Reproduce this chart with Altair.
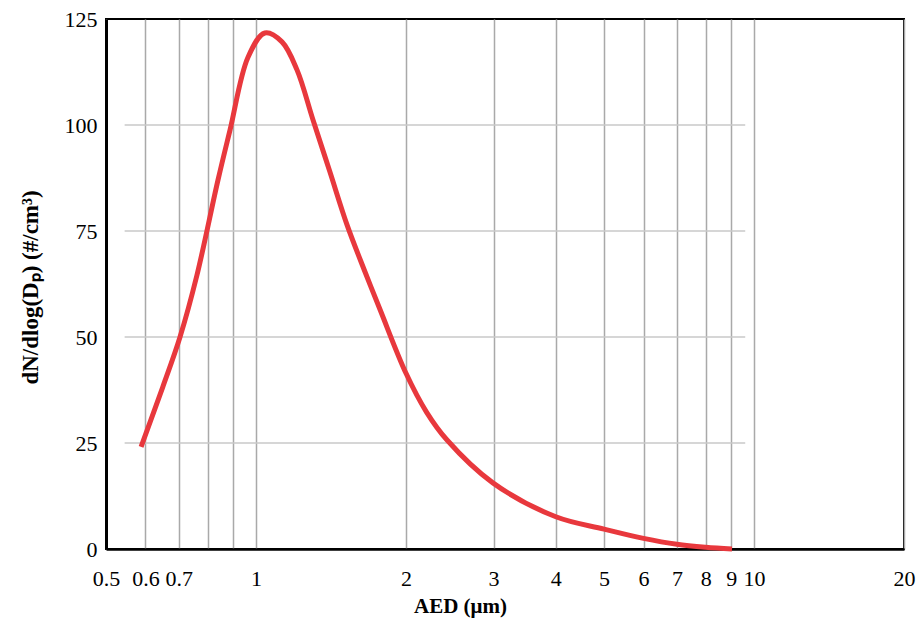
import altair as alt
import pandas as pd

# Particle size distribution
aed = [0.588, 0.650, 0.704, 0.761, 0.839, 0.887, 0.964, 1.042,
       1.128, 1.209, 1.302, 1.408, 1.523, 1.65, 1.777, 2.0, 2.2, 2.419, 2.99,
       4.0, 5.0, 6.0, 7.0, 8.0, 9.03]
dn = [24.1, 38.2, 50.0, 64.5, 87.0, 98.8, 116.0, 121.7,
      119.6, 113.0, 101.2, 88.9, 76.5, 65.8, 56.3, 41.5, 32.3, 25.7, 15.6,
      7.6, 4.7, 2.5, 1.1, 0.4, 0.0]

x_ticks = [0.5, 0.6, 0.7, 0.8, 0.9, 1, 2, 3, 4, 5, 6, 7, 8, 9, 10, 20]
y_ticks = [0, 25, 50, 75, 100, 125]
grid_y = [25, 50, 75, 100]
grid_x_start = [0.545] * 4
grid_x_end = [9.6] * 4

df = pd.DataFrame({"aed": aed, "dn": dn})
grid_df = pd.DataFrame({"x1": grid_x_start, "x2": grid_x_end, "y": grid_y})

FONT = "Liberation Serif"

x_scale = alt.Scale(type="log", domain=[0.5, 20], nice=False)
y_scale = alt.Scale(domain=[0, 125], nice=False)

x_axis = alt.Axis(
    values=x_ticks,
    labelExpr="(datum.value > 0.75 && datum.value < 0.95) ? '' : format(datum.value, '~g')",
    grid=True, gridColor="#a9a9a9", gridWidth=1.5,
    domainColor="black", domainWidth=2.5,
    tickSize=0, labelPadding=19, labelFlush=False, labelOverlap=False,
    labelFont=FONT, labelFontSize=22, labelColor="black",
    title="AED (μm)", titleFont=FONT, titleFontSize=21, titleFontWeight="bold",
    titleColor="black", titleX=354, titleY=57, titleAlign="center",
    titleBaseline="middle",
)
y_axis = alt.Axis(
    values=y_ticks, grid=False,
    domainColor="black", domainWidth=3,
    tickSize=0, labelPadding=9,
    labelFont=FONT, labelFontSize=22, labelColor="black",
    title="dN/dlog(Dₚ) (#/cm³)", titleFont=FONT, titleFontSize=23,
    titleFontWeight="bold", titleColor="black",
    titleX=-76, titleY=268, titleAngle=270, titleAlign="center",
    titleBaseline="middle",
)

grid = alt.Chart(grid_df).mark_rule(color="#c9c9c9", strokeWidth=1.5).encode(
    x=alt.X("x1:Q", scale=x_scale, axis=x_axis),
    x2="x2:Q",
    y=alt.Y("y:Q", scale=y_scale, axis=y_axis),
)

line = alt.Chart(df).mark_line(
    color="#e8383d", strokeWidth=5, interpolate="catmull-rom"
).encode(
    x=alt.X("aed:Q", scale=x_scale, axis=x_axis),
    y=alt.Y("dn:Q", scale=y_scale, axis=y_axis),
)

chart = (
    alt.layer(grid, line)
    .properties(
        width=798, height=530,
        padding={"left": 106, "top": 19, "right": 15, "bottom": 79},
        autosize="none",
        background="white",
    )
    .configure_view(stroke="black", strokeWidth=2)
)

chart.save("out.html", embed_options={"renderer": "svg", "actions": False})
